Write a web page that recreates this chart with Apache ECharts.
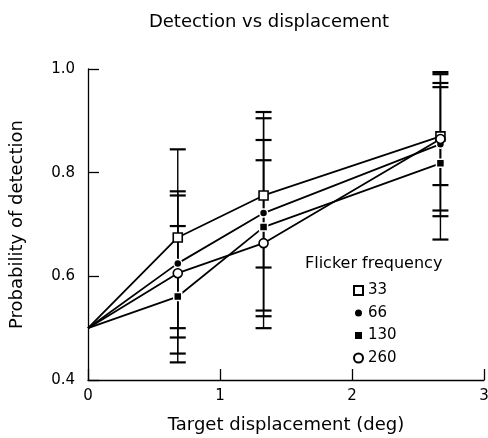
<!DOCTYPE html>
<html>
<head>
<meta charset="utf-8">
<script src="https://cdn.jsdelivr.net/npm/echarts@6/dist/echarts.min.js"></script>
<style>
  html, body { margin: 0; padding: 0; background: #fff; }
  #chart { width: 488px; height: 438px; }
</style>
</head>
<body>
<div id="chart"></div>
<script>
// target displacement (deg); first point is the common origin
const xPos = [0, 0.68, 1.33, 2.67];

// probability of detection per flicker frequency
const freqNames = ["33", "66", "130", "260"];
const p33 = [0.5, 0.675, 0.756, 0.87];
const p66 = [0.5, 0.625, 0.722, 0.855];
const p130 = [0.5, 0.561, 0.695, 0.818];
const p260 = [0.5, 0.606, 0.664, 0.865];

// error bar limits at the three tested displacements
const hi33 = [0.845, 0.905, 0.994];
const lo33 = [0.5, 0.617, 0.727];
const hi66 = [0.764, 0.917, 0.99];
const lo66 = [0.482, 0.534, 0.716];
const hi130 = [0.697, 0.863, 0.965];
const lo130 = [0.434, 0.523, 0.671];
const hi260 = [0.756, 0.824, 0.973];
const lo260 = [0.451, 0.5, 0.776];

const font = "DejaVu Sans";

const chart = echarts.init(document.getElementById("chart"));

const toPts = (vals) => vals.map((v, i) => ({
  value: [xPos[i], v],
  symbol: i === 0 ? "none" : undefined,
}));

const errData = [];
[[lo33, hi33], [lo66, hi66], [lo130, hi130], [lo260, hi260]].forEach(([lo, hi]) => {
  lo.forEach((l, i) => errData.push([xPos[i + 1], l, hi[i]]));
});

const markers = [
  { name: freqNames[0], data: p33, symbol: "rect", size: 9, fill: "#fff" },
  { name: freqNames[1], data: p66, symbol: "circle", size: 8, fill: "#000" },
  { name: freqNames[2], data: p130, symbol: "rect", size: 8, fill: "#000" },
  { name: freqNames[3], data: p260, symbol: "circle", size: 9, fill: "#fff" },
];

const lineSeries = markers.map((m) => ({
  name: m.name,
  type: "line",
  data: toPts(m.data),
  symbol: m.symbol,
  symbolSize: m.size,
  z: 3,
  lineStyle: { color: "#000", width: 1.8 },
  itemStyle: {
    color: m.fill,
    borderColor: m.fill === "#fff" ? "#000" : "#fff",
    borderWidth: m.fill === "#fff" ? 1.6 : 1.5,
  },
  emphasis: { disabled: true },
}));

let option = {
  animation: false,
  title: {
    text: "Detection vs displacement",
    left: 264,
    top: 8,
    textAlign: "center",
    textStyle: { fontFamily: font, fontSize: 18, fontWeight: "normal", color: "#000" },
  },
  grid: { left: 88, right: 4, top: 69, bottom: 58, outerBoundsMode: "none" },
  legend: {
    orient: "vertical",
    left: 348,
    top: 278,
    itemWidth: 9,
    itemHeight: 9,
    itemGap: 7.5,
    selectedMode: false,
    textStyle: { fontFamily: font, fontSize: 15, color: "#000" },
    data: markers.map((m) => ({ name: m.name, icon: m.symbol })),
  },
  graphic: [
    {
      type: "text",
      left: 305,
      top: 256,
      style: { text: "Flicker frequency", font: "16px " + font, fill: "#000" },
    },
  ],
  xAxis: {
    type: "value",
    min: 0,
    max: 3,
    interval: 1,
    name: "Target displacement (deg)",
    nameLocation: "middle",
    nameGap: 36,
    nameTextStyle: { fontFamily: font, fontSize: 18, color: "#000" },
    axisLine: { show: true, lineStyle: { color: "#000", width: 1.3 } },
    axisTick: { inside: true, length: 11, lineStyle: { color: "#000", width: 1.3 } },
    axisLabel: { fontFamily: font, fontSize: 15, color: "#000", margin: 9 },
    splitLine: { show: false },
  },
  yAxis: {
    type: "value",
    min: 0.4,
    max: 1.0,
    interval: 0.2,
    name: "Probability of detection",
    nameLocation: "middle",
    nameGap: 62,
    nameTextStyle: { fontFamily: font, fontSize: 18, color: "#000" },
    axisLine: { show: true, lineStyle: { color: "#000", width: 1.3 } },
    axisTick: { inside: true, length: 11, lineStyle: { color: "#000", width: 1.3 } },
    axisLabel: {
      fontFamily: font,
      fontSize: 15,
      color: "#000",
      margin: 13,
      formatter: (v) => v.toFixed(1),
    },
    splitLine: { show: false },
  },
  series: [
    {
      type: "custom",
      z: 1,
      silent: true,
      data: errData,
      renderItem: (params, api) => {
        const x = api.value(0);
        const pLo = api.coord([x, api.value(1)]);
        const pHi = api.coord([x, api.value(2)]);
        const half = 8;
        const st = { stroke: "#000", lineWidth: 1.4 };
        const cap = { stroke: "#000", lineWidth: 2.2 };
        return {
          type: "group",
          children: [
            { type: "line", shape: { x1: pLo[0], y1: pLo[1], x2: pHi[0], y2: pHi[1] }, style: st },
            { type: "line", shape: { x1: pHi[0] - half, y1: pHi[1], x2: pHi[0] + half, y2: pHi[1] }, style: cap },
            { type: "line", shape: { x1: pLo[0] - half, y1: pLo[1], x2: pLo[0] + half, y2: pLo[1] }, style: cap },
          ],
        };
      },
    },
    ...lineSeries,
  ],
};

chart.setOption(option);
</script>
</body>
</html>
